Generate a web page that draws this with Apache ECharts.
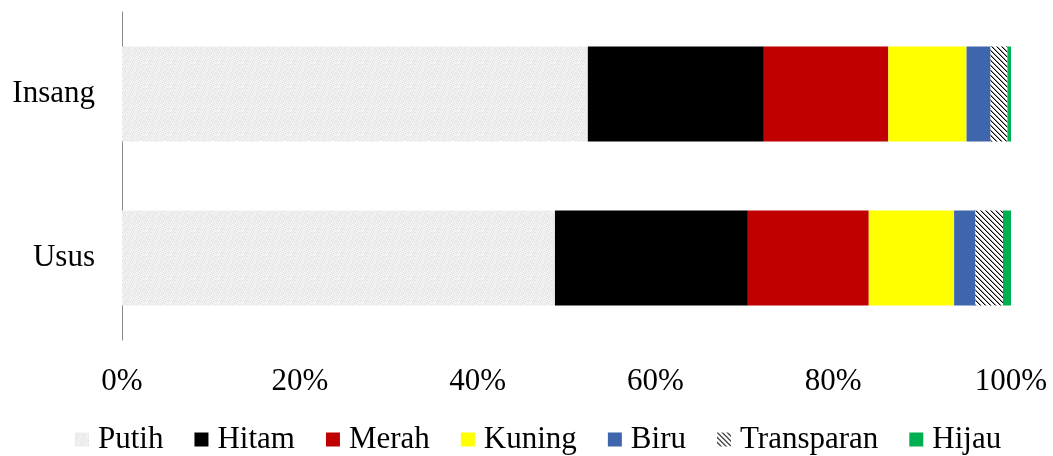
<!DOCTYPE html>
<html><head><meta charset="utf-8">
<script src="https://cdn.jsdelivr.net/npm/echarts@6/dist/echarts.min.js"></script>
<style>html,body{margin:0;padding:0;background:#fff}#c{width:1053px;height:456px}</style>
</head><body><div id="c"></div>
<script>
const categories = ['Usus', 'Insang'];
const seriesNames = ['Putih', 'Hitam', 'Merah', 'Kuning', 'Biru', 'Transparan', 'Hijau'];
const putih = [48.7, 52.4];
const hitam = [21.7, 19.8];
const merah = [13.6, 14.0];
const kuning = [9.6, 8.8];
const biru = [2.4, 2.7];
const transparan = [3.1, 1.9];
const hijau = [0.9, 0.4];
const xTicks = ['0%', '20%', '40%', '60%', '80%', '100%'];

function hatch() {
  const n = 5;
  const c = document.createElement('canvas'); c.width = n; c.height = n;
  const g = c.getContext('2d'); g.fillStyle = '#fff'; g.fillRect(0,0,n,n);
  for (let i = 0; i < n; i++) {
    g.fillStyle = '#000'; g.fillRect(i, i, 1, 1);
    g.fillStyle = '#9a9a9a'; g.fillRect((i+1)%n, i, 1, 1);
  }
  return c;
}
function texture() {
  const n = 24;
  const c = document.createElement('canvas'); c.width = n; c.height = n;
  const g = c.getContext('2d'); g.fillStyle = '#efefef'; g.fillRect(0,0,n,n);
  for (let y = 0; y < n; y++) for (let x = 0; x < n; x++) {
    const v = Math.sin(x*0.9 + y*2.3) * Math.cos(x*2.1 - y*0.7);
    if (v > 0.55) { g.fillStyle = '#dedede'; g.fillRect(x, y, 1, 1); }
    else if (v < -0.6) { g.fillStyle = '#f7f7f7'; g.fillRect(x, y, 1, 1); }
  }
  return c;
}
const colors = [
  {image: texture(), repeat: 'repeat'}, '#000000', '#C00000', '#FFFF00', '#3F65AD',
  {image: hatch(), repeat: 'repeat'}, '#00B050'
];
const dataArr = [putih, hitam, merah, kuning, biru, transparan, hijau];
const font = '"Liberation Serif", "Times New Roman", serif';
const chart = echarts.init(document.getElementById('c'));
chart.setOption({
  animation: false,
  grid: {left: 122, right: 42, top: 12, bottom: 116},
  xAxis: {
    type: 'value', min: 0, max: 100, interval: 20,
    axisLine: {show: false}, axisTick: {show: false}, splitLine: {show: false},
    axisLabel: {fontFamily: font, fontSize: 31, color: '#000', margin: 26,
      formatter: v => xTicks[Math.round(v / 20)]}
  },
  yAxis: {
    type: 'category', data: categories,
    axisLine: {show: true, lineStyle: {color: '#8c8c8c', width: 1}},
    axisTick: {show: false},
    axisLabel: {fontFamily: font, fontSize: 31, color: '#000', margin: 27}
  },
  legend: {
    bottom: -4, left: 70, itemWidth: 14, itemHeight: 14, itemGap: 31,
    icon: 'rect',
    textStyle: {fontFamily: font, fontSize: 31, color: '#000', padding: [0,0,0,4]},
    data: seriesNames
  },
  series: seriesNames.map((n, i) => ({
    name: n, type: 'bar', stack: 'all', barWidth: 95,
    itemStyle: {color: colors[i]},
    data: dataArr[i]
  }))
});
</script></body></html>
